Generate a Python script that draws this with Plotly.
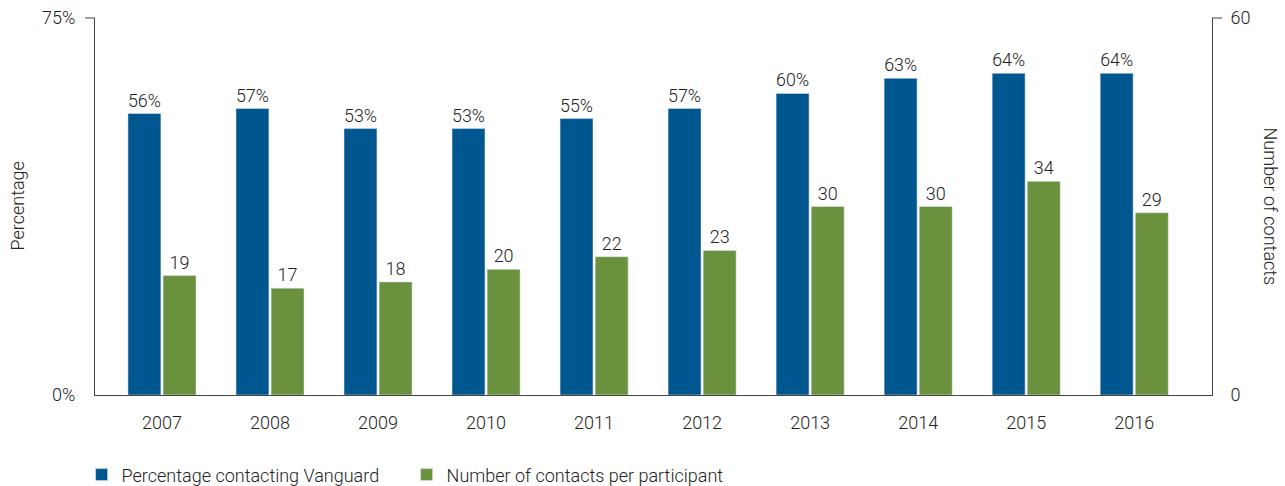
import plotly.graph_objects as go

years = ["2007", "2008", "2009", "2010", "2011", "2012", "2013", "2014", "2015", "2016"]
pct_contacting = [56, 57, 53, 53, 55, 57, 60, 63, 64, 64]
contacts_per_participant = [19, 17, 18, 20, 22, 23, 30, 30, 34, 29]

BLUE = "#00578F"
GREEN = "#6A913D"
TEXT = "#222222"
AXIS = "#444444"
FONT = "Roboto"
FS = 18
W = 300


def f(size=FS, color=TEXT):
    return dict(family=FONT, size=size, color=color, weight=W)


fig = go.Figure()
fig.add_trace(go.Bar(
    x=years, y=pct_contacting, name="Percentage contacting Vanguard",
    marker_color=BLUE, width=0.305, offset=-0.315,
    text=[f"{v}%" for v in pct_contacting], textposition="outside",
    textfont=f(), cliponaxis=False, yaxis="y",
))
fig.add_trace(go.Bar(
    x=years, y=contacts_per_participant, name="Number of contacts per participant",
    marker_color=GREEN, width=0.305, offset=0.01,
    text=[str(v) for v in contacts_per_participant], textposition="outside",
    textfont=f(), cliponaxis=False, yaxis="y2",
))

fig.update_layout(
    width=1285, height=486,
    margin=dict(l=95, r=73, t=18, b=91, autoexpand=False),
    paper_bgcolor="white", plot_bgcolor="white",
    font=f(),
    barmode="overlay",
    xaxis=dict(
        type="category", range=[-0.62, 9.72], automargin=False,
        showline=True, linecolor=AXIS, linewidth=1,
        ticks="", showgrid=False, tickfont=f(),
        ticklabelstandoff=11,
    ),
    yaxis=dict(
        range=[0, 75], tickvals=[0, 75], ticktext=["0%", "75%"], automargin=False,
        showline=True, linecolor=AXIS, linewidth=1,
        ticks="", showgrid=False, zeroline=False,
        tickfont=f(), ticklabelstandoff=15, ticklabeloverflow="allow",
    ),
    yaxis2=dict(
        range=[0, 60], tickvals=[0, 60], ticktext=["0", "60"], automargin=False,
        overlaying="y", side="right",
        showline=True, linecolor=AXIS, linewidth=1,
        ticks="", showgrid=False, zeroline=False,
        tickfont=f(), ticklabelstandoff=14, ticklabeloverflow="allow",
    ),
    showlegend=True,
    legend=dict(
        orientation="h", x=-0.012, xanchor="left", y=-0.212, yanchor="middle",
        font=f(), traceorder="normal",
        entrywidth=280, bgcolor="rgba(0,0,0,0)",
    ),
    annotations=[
        dict(text="Percentage", textangle=-90, xref="paper", yref="paper",
             x=0.0, xanchor="center", xshift=-78, y=0.5, showarrow=False, font=f()),
        dict(text="Number of contacts", textangle=90, xref="paper", yref="paper",
             x=1.0, xanchor="center", xshift=58, y=0.5, showarrow=False, font=f()),
    ],
)
fig.add_shape(type="line", xref="paper", yref="paper", xsizemode="pixel", xanchor=0,
              x0=-10, x1=0, y0=1, y1=1, line=dict(color=AXIS, width=1))
fig.add_shape(type="line", xref="paper", yref="paper", xsizemode="pixel", xanchor=1,
              x0=0, x1=10, y0=1, y1=1, line=dict(color=AXIS, width=1))

fig.write_html(
    "out.html",
    config={"displayModeBar": False},
    post_script="document.body.style.margin='0';document.body.style.overflow='hidden';",
)
